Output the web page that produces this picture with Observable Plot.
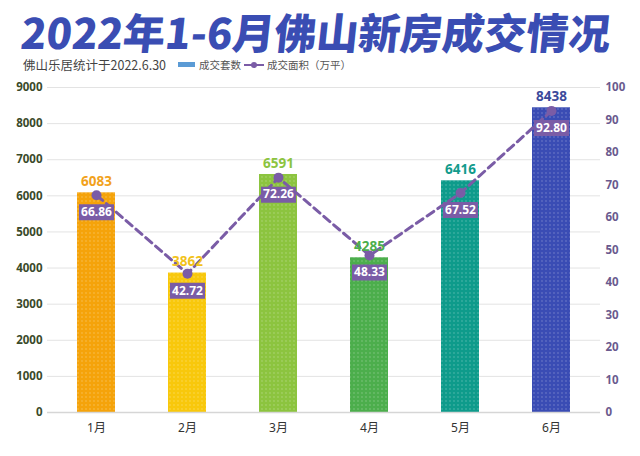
<!DOCTYPE html>
<html><head><meta charset="utf-8">
<script src="https://cdn.jsdelivr.net/npm/d3@7"></script>
<script src="https://cdn.jsdelivr.net/npm/@observablehq/plot@0.6"></script>
<style>
body{margin:0;background:#fff;width:640px;height:456px;overflow:hidden;font-family:"Noto Sans CJK SC","Noto Sans",sans-serif;}
#title{box-sizing:border-box;height:54px;padding-top:0;line-height:62px;font-size:42px;font-weight:900;color:#3a4db3;white-space:nowrap;padding-left:19px;letter-spacing:0;transform:skewX(-6deg);transform-origin:left bottom;}
#sub{position:relative;height:21px;display:flex;align-items:center;font-size:12.5px;color:#444;padding-left:23px;white-space:nowrap;}
.lg{display:inline-flex;align-items:center;font-size:10.5px;color:#555;margin-left:12px;}
.sw{width:17px;height:5px;background:#5b9bd5;margin-right:4px;}
.ln{position:relative;width:20px;height:2px;background:#7a5ca6;margin-right:3px;}
.ln::after{content:"";position:absolute;left:7px;top:-2px;width:6px;height:6px;border-radius:3px;background:#7a5ca6;}
</style></head>
<body>
<div id="title">2022年1-6月佛山新房成交情况</div>
<div id="sub">佛山乐居统计于2022.6.30<span class="lg"><span class="sw"></span>成交套数</span><span class="lg" style="margin-left:3px"><span class="ln"></span>成交面积（万平）</span></div>
<div id="chart"></div>
<script>
const months = ["1月","2月","3月","4月","5月","6月"];
const deals = [6083, 3862, 6591, 4285, 6416, 8438];
const areas = [66.86, 42.72, 72.26, 48.33, 67.52, 92.80];
const leftTicks = [0,1000,2000,3000,4000,5000,6000,7000,8000,9000];
const rightTicks = [0,10,20,30,40,50,60,70,80,90,100];

const k = 90; // right axis (0-100) mapped onto left axis (0-9000)
const data = months.map((m,i)=>({month:m, deals:deals[i], area:areas[i], areaY:areas[i]*k}));

const barColors = ["#f5a30a","#f8c80c","#8cc43f","#4cae4c","#0e9b8b","#3a4cb4"];
const labelColors = ["#f2a21c","#f2c21a","#8cc43f","#4cae4c","#129b8c","#3b4a9b"];
const rectSymbol = {draw(ctx){ ctx.rect(-17.5,-8,35,16); }};

const plot = Plot.plot({
  width: 640, height: 381,
  marginTop: 12, marginBottom: 44, marginLeft: 47, marginRight: 40,
  x: {domain: months, paddingInner: 0.58, paddingOuter: 0.31, label: null},
  y: {domain: [0, 9000], label: null},
  color: {domain: months, range: barColors},
  style: {fontFamily: '"Noto Sans","Noto Sans CJK SC",sans-serif', background: "transparent"},
  marks: [
    Plot.gridY(leftTicks, {stroke: "#e3e3e3", strokeOpacity: 1}),
    Plot.barY(data, {x: "month", y: "deals", fill: "month"}),
    Plot.barY(data, {x: "month", y: "deals", fill: "url(#dots)"}),
    Plot.ruleY([0], {stroke: "#d6d6d6", strokeWidth: 1.5}),
    Plot.axisY({ticks: leftTicks, tickFormat: d => String(d), tickSize: 0, tickPadding: 5, anchor: "left", fontSize: 11.5, fontWeight: "bold", fill: "#3a4a2a", label: null}),
    Plot.axisY({ticks: rightTicks.map(d=>d*k), tickFormat: d => String(d/k), tickSize: 0, tickPadding: 5, anchor: "right", fontSize: 11.5, fontWeight: "bold", fill: "#6a5a8e", label: null}),
    Plot.axisX({tickSize: 0, tickPadding: 11, fontSize: 12, fill: "#333", label: null}),
    Plot.line(data, {x: "month", y: "areaY", stroke: "#7a5ca6", strokeWidth: 3, strokeDasharray: "8,5"}),
    Plot.dot(data, {x: "month", y: "areaY", r: 5, fill: "#7a5ca6"}),
    Plot.text(data, {x: "month", y: "deals", text: d => String(d.deals), dy: -11, fontSize: 13.5, fontWeight: "bold", fill: (d,i)=>labelColors[i]}),
    Plot.dot(data, {x: "month", y: "areaY", symbol: rectSymbol, r: 5, dy: 17, fill: "#7a5ca6"}),
    Plot.text(data, {x: "month", y: "areaY", text: d => d.area.toFixed(2), dy: 17, fontSize: 12, fontWeight: "bold", fill: "white"})
  ]
});
const defs = d3.select(plot).insert("defs", ":first-child");
const pat = defs.append("pattern").attr("id","dots").attr("width",4).attr("height",4).attr("patternUnits","userSpaceOnUse");
pat.append("circle").attr("cx",2).attr("cy",2).attr("r",0.7).attr("fill","white").attr("fill-opacity",0.35);
document.getElementById("chart").appendChild(plot);
</script>
</body></html>
